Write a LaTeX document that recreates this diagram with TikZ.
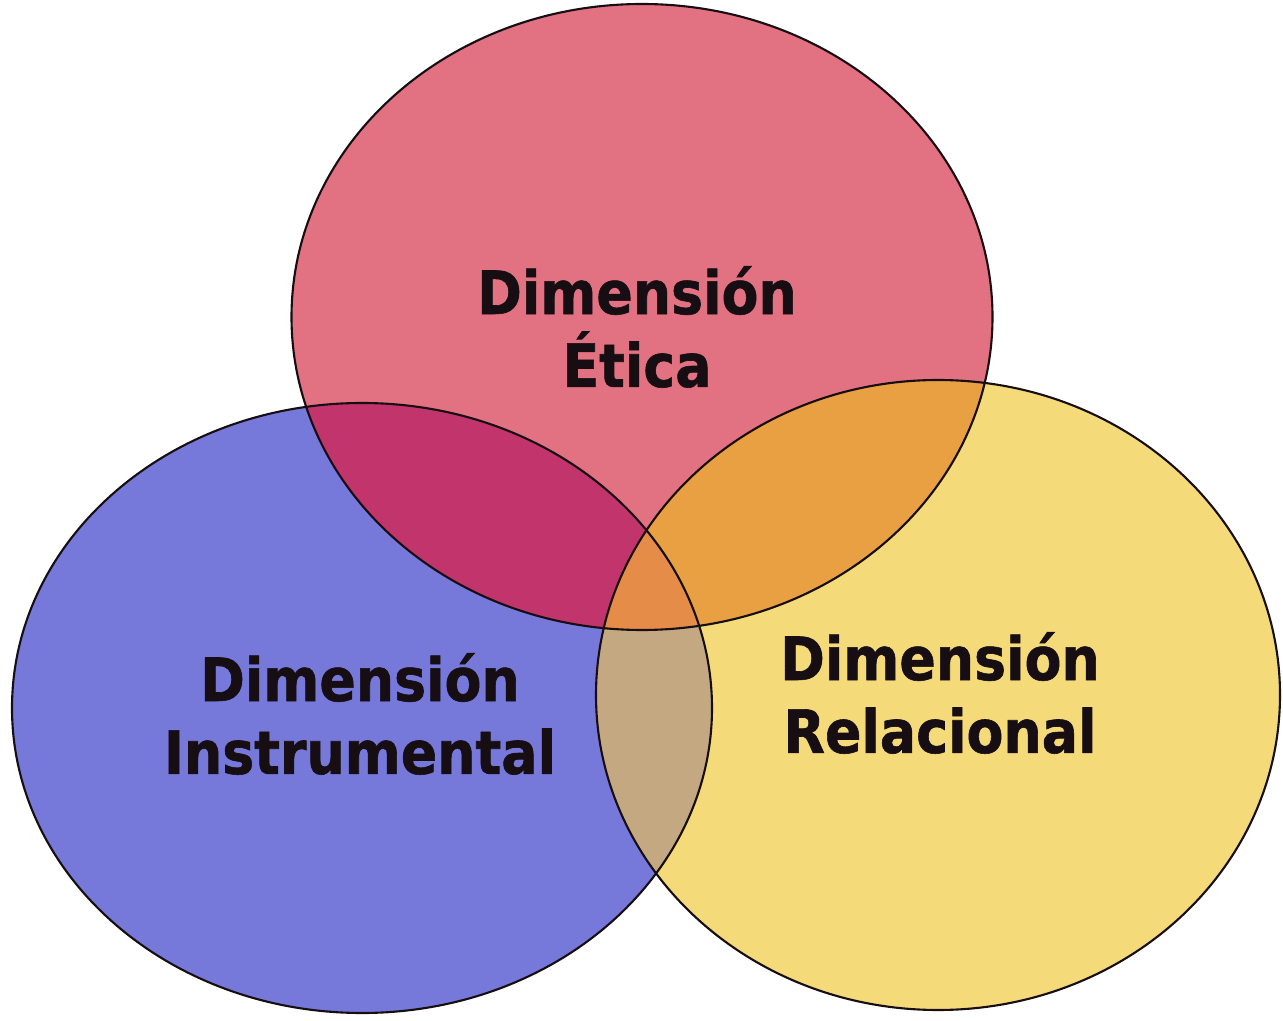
\documentclass[tikz,border=0pt]{standalone}
\usepackage{fontspec}
\setmainfont{DejaVu Sans}
\newfontfamily\rotfuente{DejaVu Sans}[FakeStretch=0.9, FakeBold=1]

\definecolor{rojo}{HTML}{E27282}
\definecolor{azul}{HTML}{7679D9}
\definecolor{amarillo}{HTML}{F5DA7A}
\definecolor{rojoazul}{HTML}{C2346C}
\definecolor{rojoamarillo}{HTML}{E8A042}
\definecolor{azulamarillo}{HTML}{C4A882}
\definecolor{centro}{HTML}{E48C48}
\definecolor{tinta}{HTML}{160E12}

\tikzset{
  borde/.style={draw=tinta, line width=1.2pt},
  rotulo/.style={text=tinta, align=center, inner sep=0pt,
    font=\rotfuente\fontsize{34}{41.5}\selectfont\bfseries}
}

\begin{document}
\begin{tikzpicture}

\useasboundingbox (0,0) rectangle (25.66,20.4);

\def\etica{(12.84,14.06) ellipse [x radius=7.01, y radius=6.26]}
\def\instrumental{(7.24,6.24) ellipse [x radius=7.0, y radius=6.1]}
\def\relacional{(18.76,6.5) ellipse [x radius=6.84, y radius=6.3]}

% Rellenos
\fill[rojo] \etica;
\fill[azul] \instrumental;
\fill[amarillo] \relacional;

% Intersecciones
\begin{scope}
\clip \etica;
\fill[rojoazul] \instrumental;
\fill[rojoamarillo] \relacional;
\end{scope}

\begin{scope}
\clip \instrumental;
\fill[azulamarillo] \relacional;
\clip \relacional;
\fill[centro] \etica;
\end{scope}

% Bordes
\draw[borde] \etica;
\draw[borde] \instrumental;
\draw[borde] \relacional;

% Textos
\node[rotulo] (etica) at (12.74,13.86) {Dimensión\\Ética};
\node[rotulo] (instrumental) at (7.2,6.12) {Dimensión\\Instrumental};
\node[rotulo] (relacional) at (18.8,6.54) {Dimensión\\Relacional};

\end{tikzpicture}
\end{document}
